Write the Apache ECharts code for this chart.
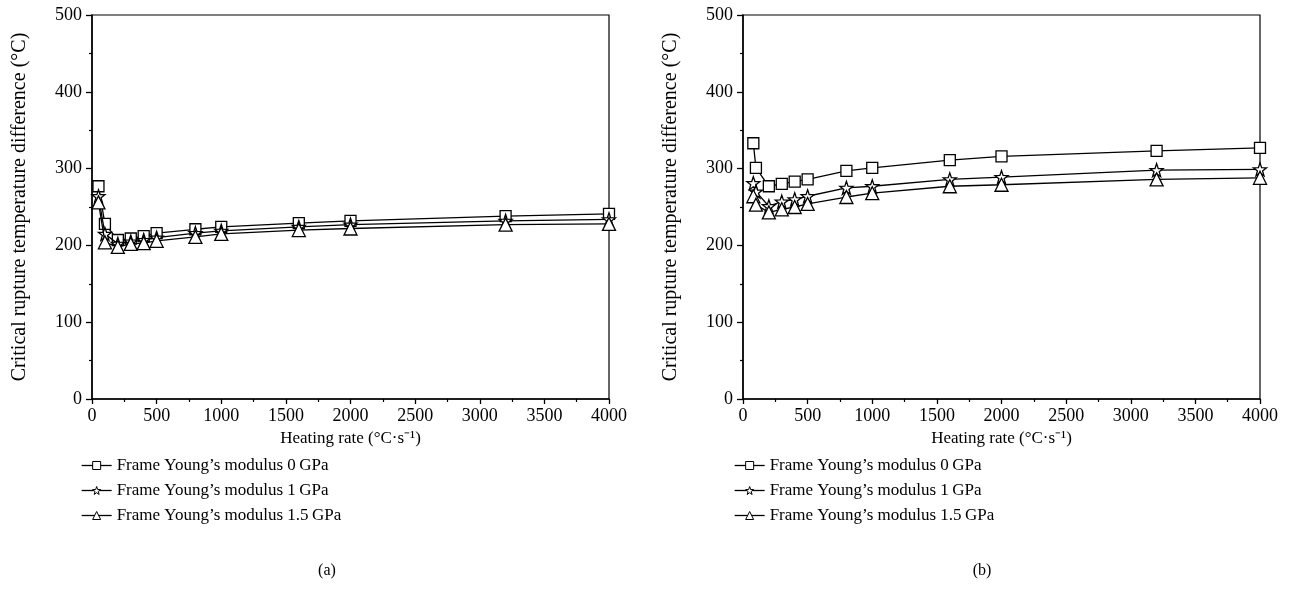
<!DOCTYPE html>
<html>
<head>
<meta charset="utf-8">
<script src="https://cdn.jsdelivr.net/npm/echarts@6/dist/echarts.min.js"></script>
<style>
  html, body { margin: 0; padding: 0; background: #fff; }
  #chart { width: 1296px; height: 602px; }
</style>
</head>
<body>
<div id="chart"></div>
<script>
// heating rate (°C/s) of each point
const rateA = [50, 100, 200, 300, 400, 500, 800, 1000, 1600, 2000, 3200, 4000];
const rateB = [80, 100, 200, 300, 400, 500, 800, 1000, 1600, 2000, 3200, 4000];

// panel (a)
const a0GPa = [277, 228, 207, 209, 212, 216, 221, 224, 229, 232, 238, 241];
const a1GPa = [264, 215, 202, 205, 207, 210, 216, 219, 224, 227, 232, 234];
const a15GPa = [256, 204, 198, 202, 203, 206, 211, 215, 220, 222, 227, 228];

// panel (b)
const b0GPa = [333, 301, 277, 280, 283, 286, 297, 301, 311, 316, 323, 327];
const b1GPa = [281, 270, 251, 257, 260, 264, 275, 277, 286, 289, 298, 299];
const b15GPa = [264, 253, 243, 247, 250, 254, 263, 268, 277, 279, 286, 288];

const seriesNames = [
  'Frame Young\u2019s modulus 0\u2009GPa',
  'Frame Young\u2019s modulus 1\u2009GPa',
  'Frame Young\u2019s modulus 1.5\u2009GPa'
];
const panelLabels = ['(a)', '(b)'];

const serif = 'Liberation Serif';
const starPath = 'path://M0,-10L2.35,-3.24L9.51,-3.09L3.8,1.24L5.88,8.09L0,4L-5.88,8.09L-3.8,1.24L-9.51,-3.09L-2.35,-3.24Z';
const symbols = ['rect', starPath, 'triangle'];
const symbolSizes = [11, 13, 13];

function pairs(xs, ys) {
  return xs.map((x, i) => [x, ys[i]]);
}

function makeSeries(gridIdx, xs, ysList) {
  return ysList.map((ys, k) => ({
    name: seriesNames[k],
    type: 'line',
    xAxisIndex: gridIdx,
    yAxisIndex: gridIdx,
    data: pairs(xs, ys),
    symbol: symbols[k],
    symbolSize: symbolSizes[k],
    showAllSymbol: true,
    lineStyle: { color: '#000', width: 1.3 },
    itemStyle: { color: '#fff', borderColor: '#000', borderWidth: 1.3 },
    z: 2 + k,
    animation: false
  }));
}

function xAxisOpt(gridIdx) {
  return {
    gridIndex: gridIdx,
    type: 'value',
    min: 0, max: 4000, interval: 500,
    name: 'Heating rate (°C·s⁻¹)',
    nameLocation: 'middle',
    nameGap: 27,
    nameTextStyle: { fontFamily: serif, fontSize: 17, color: '#000' },
    axisLine: { show: true, onZero: false, lineStyle: { color: '#000', width: 1.5 } },
    axisTick: { show: true, length: 5, lineStyle: { color: '#000', width: 1.3 } },
    minorTick: { show: true, splitNumber: 2, length: 3, lineStyle: { color: '#000', width: 1.2 } },
    axisLabel: { fontFamily: serif, fontSize: 18, color: '#000', margin: 8, formatter: v => String(v) },
    splitLine: { show: false }
  };
}

function yAxisOpt(gridIdx) {
  return {
    gridIndex: gridIdx,
    type: 'value',
    min: 0, max: 500, interval: 100,
    name: 'Critical rupture temperature difference (°C)',
    nameLocation: 'middle',
    nameGap: 62,
    nameTextStyle: { fontFamily: serif, fontSize: 20, color: '#000' },
    axisLine: { show: true, onZero: false, lineStyle: { color: '#000', width: 1.5 } },
    axisTick: { show: true, length: 6, lineStyle: { color: '#000', width: 1.3 } },
    minorTick: { show: true, splitNumber: 2, length: 3, lineStyle: { color: '#000', width: 1.2 } },
    axisLabel: { fontFamily: serif, fontSize: 18, color: '#000', margin: 10, formatter: v => String(v) },
    splitLine: { show: false }
  };
}

function legendOpt(left) {
  return {
    orient: 'vertical',
    left: left,
    top: 452,
    itemWidth: 30,
    itemHeight: 10,
    itemGap: 8,
    data: seriesNames,
    itemStyle: { color: '#fff', borderColor: '#000', borderWidth: 1 },
    lineStyle: { color: '#000', width: 1.3 },
    textStyle: { fontFamily: serif, fontSize: 17, color: '#000' },
    selectedMode: false
  };
}

const chart = echarts.init(document.getElementById('chart'));
chart.setOption({
  backgroundColor: '#fff',
  animation: false,
  title: [
    { text: panelLabels[0], left: 322, top: 558, textAlign: 'center',
      textStyle: { fontFamily: serif, fontSize: 16, fontWeight: 'normal', color: '#000' } },
    { text: panelLabels[1], left: 977, top: 558, textAlign: 'center',
      textStyle: { fontFamily: serif, fontSize: 16, fontWeight: 'normal', color: '#000' } }
  ],
  legend: [legendOpt(76), legendOpt(729)],
  grid: [
    { left: 92, top: 15, width: 517, height: 384, show: true, borderColor: '#000', borderWidth: 1.2, backgroundColor: 'transparent' },
    { left: 743, top: 15, width: 517, height: 384, show: true, borderColor: '#000', borderWidth: 1.2, backgroundColor: 'transparent' }
  ],
  xAxis: [xAxisOpt(0), xAxisOpt(1)],
  yAxis: [yAxisOpt(0), yAxisOpt(1)],
  series: [
    ...makeSeries(0, rateA, [a0GPa, a1GPa, a15GPa]),
    ...makeSeries(1, rateB, [b0GPa, b1GPa, b15GPa])
  ]
});
</script>
</body>
</html>
